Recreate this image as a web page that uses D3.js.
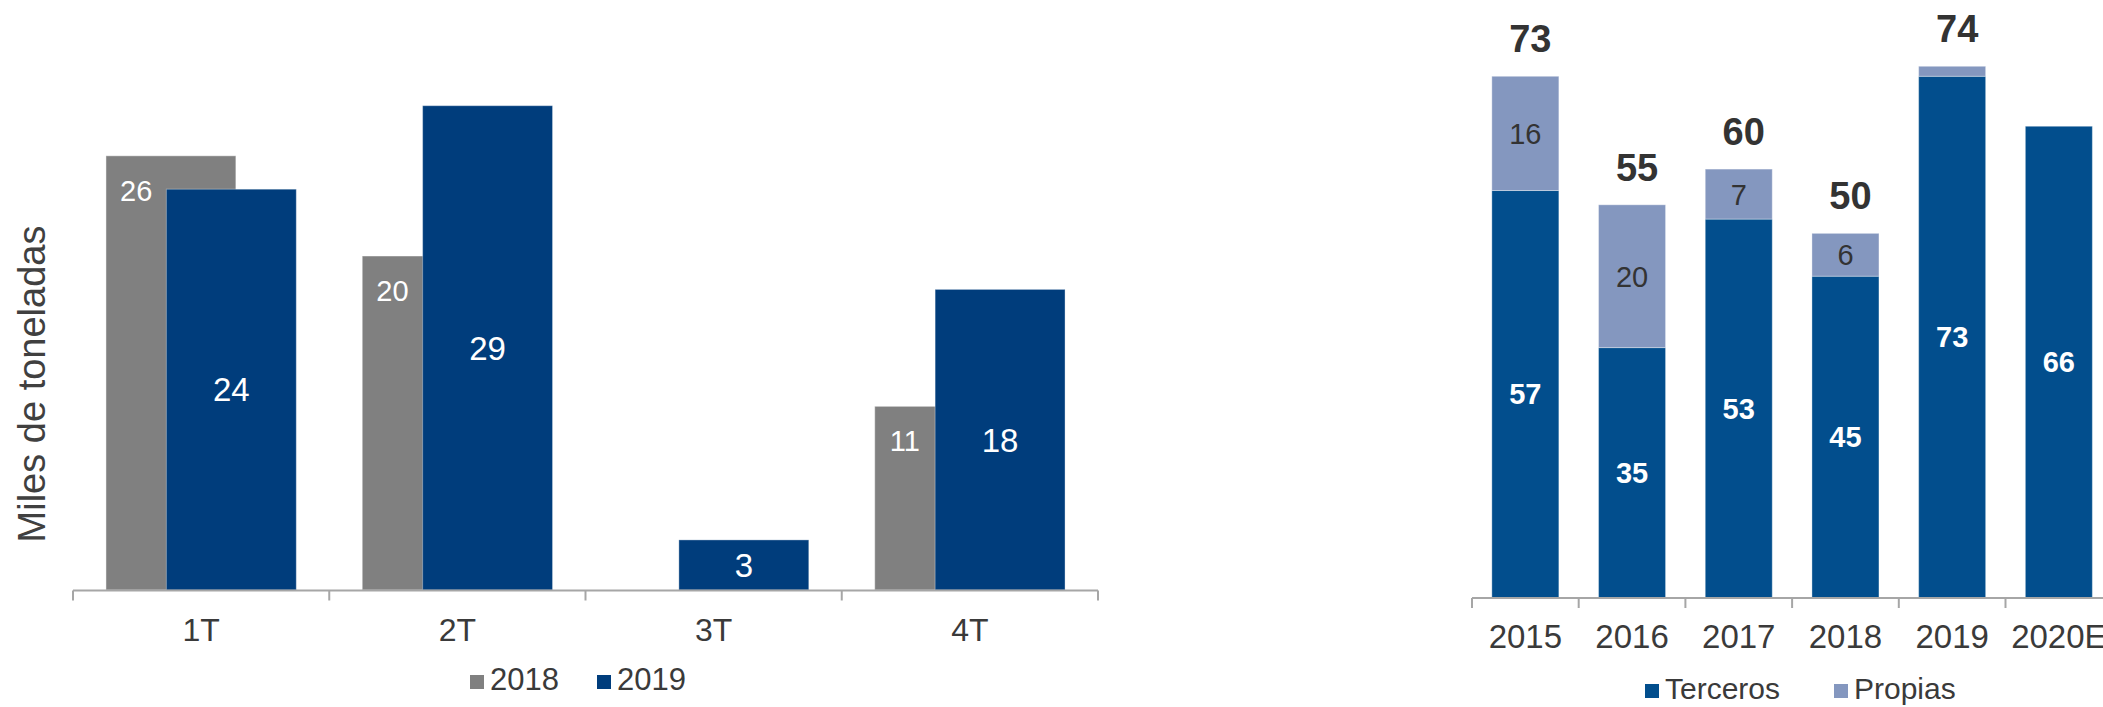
<!DOCTYPE html>
<html>
<head>
<meta charset="utf-8">
<script src="https://cdn.jsdelivr.net/npm/d3@7"></script>
<style>
  html, body { margin: 0; padding: 0; background: #fff; }
  svg { display: block; font-family: "Liberation Sans", Arial, sans-serif; }
</style>
</head>
<body>
<svg id="chart"></svg>
<script>
const W = 2103;
const H = 707;

// ── Data ──────────────────────────────────────────────────────────────────────

const QUARTERS = ['1T', '2T', '3T', '4T'];
const SERIES_Q = ['2018', '2019'];
const VAL_2018 = [26, 20, 0, 11];
const VAL_2019 = [24, 29, 3, 18];

const YEARS    = ['2015', '2016', '2017', '2018', '2019', '2020E'];
const TERCEROS = [57, 35, 53, 45, 73, 66];
const PROPIAS  = [16, 20, 7, 6, 1.4, 0];
const TOTALS   = [73, 55, 60, 50, 74, null];
const SERIES_Y = ['Terceros', 'Propias'];

// ── Colors ────────────────────────────────────────────────────────────────────

const GRAY      = '#808080';
const NAVY      = '#003d7c';
const BLUE      = '#024e8d';
const LIGHTBLUE = '#8497bf';
const TEXT      = '#3a3a3a';
const AXIS      = '#a6a6a6';

const svg = d3.select('#chart').attr('width', W).attr('height', H);

// ── Left: quarterly grouped bars ──────────────────────────────────────────────

const xL = d3.scaleBand().domain(QUARTERS).range([73, 1098]);
const yL = d3.scaleLinear().domain([0, 30]).range([590, 89]);

const bwL   = xL.bandwidth();
const barL  = bwL * 0.507;
const shift = barL * 0.465;
const gx    = q => xL(q) + (bwL - barL - shift) / 2;

const left = svg.append('g');

// 2018 (behind)
left.selectAll('rect.b2018')
  .data(QUARTERS.map((q, i) => ({ q, v: VAL_2018[i] })).filter(d => d.v > 0))
  .join('rect')
  .attr('x', d => gx(d.q))
  .attr('y', d => yL(d.v))
  .attr('width', barL)
  .attr('height', d => yL(0) - yL(d.v))
  .attr('fill', GRAY)
  .attr('stroke', 'rgba(255,255,255,0.45)')
  .attr('stroke-width', 1);

// 2019 (front)
left.selectAll('rect.b2019')
  .data(QUARTERS.map((q, i) => ({ q, v: VAL_2019[i] })))
  .join('rect')
  .attr('x', d => gx(d.q) + shift)
  .attr('y', d => yL(d.v))
  .attr('width', barL)
  .attr('height', d => yL(0) - yL(d.v))
  .attr('fill', NAVY)
  .attr('stroke', 'rgba(255,255,255,0.35)')
  .attr('stroke-width', 1);

// labels 2018: in visible strip of the gray bar
left.selectAll('text.l2018')
  .data(QUARTERS.map((q, i) => ({ q, v: VAL_2018[i] })).filter(d => d.v > 0))
  .join('text')
  .attr('x', d => gx(d.q) + shift / 2)
  .attr('y', d => yL(d.v) + 45)
  .attr('text-anchor', 'middle')
  .attr('font-size', 29)
  .attr('fill', '#fff')
  .text(d => d.v);

// labels 2019: centered
left.selectAll('text.l2019')
  .data(QUARTERS.map((q, i) => ({ q, v: VAL_2019[i] })))
  .join('text')
  .attr('x', d => gx(d.q) + shift + barL / 2)
  .attr('y', d => (yL(d.v) + yL(0)) / 2)
  .attr('dy', '0.36em')
  .attr('text-anchor', 'middle')
  .attr('font-size', 33)
  .attr('fill', '#fff')
  .text(d => d.v);

// axis
const axL = left.append('g').attr('transform', `translate(0,${yL(0) + 0.5})`);
axL.append('line')
  .attr('x1', xL.range()[0]).attr('x2', xL.range()[1])
  .attr('stroke', AXIS).attr('stroke-width', 2);
axL.selectAll('line.tick')
  .data([...QUARTERS.map(q => xL(q)), xL.range()[1]])
  .join('line')
  .attr('x1', d => d).attr('x2', d => d)
  .attr('y1', 0).attr('y2', 10)
  .attr('stroke', AXIS).attr('stroke-width', 2);
axL.selectAll('text')
  .data(QUARTERS)
  .join('text')
  .attr('x', d => xL(d) + bwL / 2)
  .attr('y', 50)
  .attr('text-anchor', 'middle')
  .attr('font-size', 32)
  .attr('fill', TEXT)
  .text(d => d);

// y title
left.append('text')
  .attr('transform', 'translate(45,384) rotate(-90)')
  .attr('text-anchor', 'middle')
  .attr('font-size', 38)
  .attr('fill', '#404040')
  .text('Miles de toneladas');

// legend
const legL = left.append('g');
const legLx = [470, 597];
SERIES_Q.forEach((s, i) => {
  legL.append('rect')
    .attr('x', legLx[i]).attr('y', 675)
    .attr('width', 14).attr('height', 14)
    .attr('fill', i === 0 ? GRAY : NAVY);
  legL.append('text')
    .attr('x', legLx[i] + 20).attr('y', 690)
    .attr('font-size', 31)
    .attr('fill', TEXT)
    .text(s);
});

// ── Right: yearly stacked bars ────────────────────────────────────────────────

const xR = d3.scaleBand().domain(YEARS).range([1472, 1472 + 6 * 106.7]);
const yR = d3.scaleLinear().domain([0, 80]).range([597.5, 26.3]);

const bwR  = xR.bandwidth();
const barR = bwR * 0.628;

const rows = YEARS.map((y, i) => ({ year: y, Terceros: TERCEROS[i], Propias: PROPIAS[i], total: TOTALS[i] }));
const stacked = d3.stack().keys(SERIES_Y)(rows);
const colorR = d3.scaleOrdinal().domain(SERIES_Y).range([BLUE, LIGHTBLUE]);

const right = svg.append('g');

right.selectAll('g.layer')
  .data(stacked)
  .join('g')
  .attr('fill', d => colorR(d.key))
  .selectAll('rect')
  .data(d => d.filter(p => p[1] > p[0]))
  .join('rect')
  .attr('x', d => xR(d.data.year) + (bwR - barR) / 2)
  .attr('y', d => yR(d[1]))
  .attr('width', barR)
  .attr('height', d => yR(d[0]) - yR(d[1]))
  .attr('stroke', 'rgba(255,255,255,0.35)')
  .attr('stroke-width', 1);

// segment labels
right.selectAll('text.ter')
  .data(stacked[0])
  .join('text')
  .attr('x', d => xR(d.data.year) + bwR / 2)
  .attr('y', d => (yR(d[0]) + yR(d[1])) / 2)
  .attr('dy', '0.36em')
  .attr('text-anchor', 'middle')
  .attr('font-size', 29)
  .attr('font-weight', 'bold')
  .attr('fill', '#fff')
  .text(d => d.data.Terceros);

right.selectAll('text.pro')
  .data(stacked[1].filter(d => d.data.Propias >= 5))
  .join('text')
  .attr('x', d => xR(d.data.year) + bwR / 2)
  .attr('y', d => (yR(d[0]) + yR(d[1])) / 2)
  .attr('dy', '0.36em')
  .attr('text-anchor', 'middle')
  .attr('font-size', 29)
  .attr('fill', '#333')
  .text(d => d.data.Propias);

// totals
right.selectAll('text.tot')
  .data(rows.filter(d => d.total != null))
  .join('text')
  .attr('x', d => xR(d.year) + bwR / 2 + 5)
  .attr('y', d => yR(d.Terceros + d.Propias) - 24)
  .attr('text-anchor', 'middle')
  .attr('font-size', 38)
  .attr('font-weight', 'bold')
  .attr('fill', '#333')
  .text(d => d.total);

// axis
const axR = right.append('g').attr('transform', `translate(0,${yR(0) + 0.5})`);
axR.append('line')
  .attr('x1', xR.range()[0]).attr('x2', xR.range()[1])
  .attr('stroke', AXIS).attr('stroke-width', 2);
axR.selectAll('line.tick')
  .data([...YEARS.map(y => xR(y)), xR.range()[1]])
  .join('line')
  .attr('x1', d => d).attr('x2', d => d)
  .attr('y1', 0).attr('y2', 10)
  .attr('stroke', AXIS).attr('stroke-width', 2);
axR.selectAll('text')
  .data(YEARS)
  .join('text')
  .attr('x', d => xR(d) + bwR / 2)
  .attr('y', 50)
  .attr('text-anchor', 'middle')
  .attr('font-size', 33)
  .attr('fill', TEXT)
  .text(d => d);

// legend
const legR = right.append('g');
const legRx = [1645, 1834];
SERIES_Y.forEach((s, i) => {
  legR.append('rect')
    .attr('x', legRx[i]).attr('y', 684)
    .attr('width', 14).attr('height', 14)
    .attr('fill', colorR(s));
  legR.append('text')
    .attr('x', legRx[i] + 20).attr('y', 699)
    .attr('font-size', 30)
    .attr('fill', TEXT)
    .text(s);
});
</script>
</body>
</html>
